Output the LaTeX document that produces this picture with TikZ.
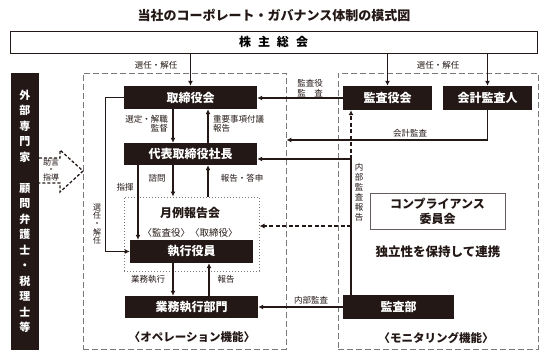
\documentclass[tikz,border=0pt]{standalone}
\usepackage{fontspec}
\setmainfont{Noto Sans CJK JP}
\usetikzlibrary{arrows.meta,positioning}
\definecolor{BoxBlack}{RGB}{35,24,21}
\definecolor{FrameGray}{RGB}{120,120,120}

\tikzset{
  darkbox/.style={fill=BoxBlack, text=white, inner sep=0pt,
    font=\bfseries\fontsize{12}{12}\selectfont},
  lbl/.style={font=\fontsize{8.5}{9.5}\selectfont, align=center, inner sep=0pt, text=BoxBlack},
  bigtext/.style={font=\bfseries\fontsize{12}{15}\selectfont, align=center, inner sep=0pt, text=BoxBlack},
  arr/.style={draw=BoxBlack, line width=1.3pt, -{Latex[length=5pt,width=5pt]}},
  link/.style={draw=BoxBlack, line width=1.3pt},
  dasharr/.style={arr, dash pattern=on 4pt off 2.5pt},
  frame/.style={draw=FrameGray, line width=0.9pt, dash pattern=on 6pt off 3pt, inner sep=0pt},
}

\begin{document}
\begin{tikzpicture}[x=1pt, y=-1pt]
    \useasboundingbox (0,0) rectangle (548,357);

    % Title and shareholders
    \node[font=\bfseries\fontsize{13}{13}\selectfont, text=BoxBlack] (title) at (274,15) {当社のコーポレート・ガバナンス体制の模式図};
    \node[draw=BoxBlack, line width=1pt, fill=white, minimum width=527pt, minimum height=22pt, inner sep=0pt,
      font=\bfseries\fontsize{12}{12}\selectfont] (holders) at (273.5,42)
      {株\hspace{7pt}主\hspace{7pt}総\hspace{7pt}会};

    % Frames
    \node[frame, minimum width=203pt, minimum height=276pt] (opframe) at (184.5,211) {};
    \node[frame, minimum width=200pt, minimum height=276pt] (monframe) at (438,211) {};
    \node[draw=FrameGray, dotted, line width=1pt, minimum width=135pt, minimum height=74pt, inner sep=0pt] (monthly) at (191.5,234) {};

    % Boxes
    \node[darkbox, minimum width=28pt, minimum height=277pt, align=center,
      font=\bfseries\fontsize{11}{15.5}\selectfont] (ext) at (25,211.5)
      {外\\部\\専\\門\\家\\\mbox{}\\顧\\問\\弁\\護\\士\\・\\税\\理\\士\\等};
    \node[darkbox, minimum width=133pt, minimum height=23pt] (board) at (190.5,97.5) {取締役会};
    \node[darkbox, minimum width=133pt, minimum height=22pt] (ceo) at (190.5,154) {代表取締役社長};
    \node[darkbox, minimum width=123pt, minimum height=23pt] (exec) at (191.5,251.5) {執行役員};
    \node[darkbox, minimum width=133pt, minimum height=22pt] (dept) at (191.5,307) {業務執行部門};
    \node[darkbox, minimum width=89pt, minimum height=24pt] (auditboard) at (387.5,98) {監査役会};
    \node[darkbox, minimum width=89pt, minimum height=24pt] (accountant) at (487.5,98) {会計監査人};
    \node[darkbox, minimum width=111pt, minimum height=24pt] (auditdept) at (398.5,307) {監査部};
    \node[draw=BoxBlack!70, line width=0.6pt, fill=white, minimum width=135pt, minimum height=36pt,
      bigtext] (compliance) at (437.5,211) {コンプライアンス\\委員会};

    % Texts
    \node[bigtext] (montitle) at (190,213) {月例報告会};
    \node[lbl, font=\fontsize{9.5}{9.5}\selectfont] (monsub) at (190,233) {〈監査役〉〈取締役〉};
    \node[bigtext, font=\bfseries\fontsize{11.5}{11.5}\selectfont] (optext) at (192,337) {〈オペレーション機能〉};
    \node[bigtext, font=\bfseries\fontsize{11.5}{11.5}\selectfont] (montext) at (436,338) {〈モニタリング機能〉};
    \node[bigtext, font=\bfseries\fontsize{12.5}{12.5}\selectfont] (indep) at (438,252) {独立性を保持して連携};

    % Shareholders' meeting
    \draw[arr] (board.north |- holders.south) -- (board.north);
    \draw[arr] (auditboard.north |- holders.south) -- (auditboard.north);
    \draw[arr] (accountant.north |- holders.south) -- (accountant.north);
    \node[lbl] (elect1) at (156,65) {選任・解任};
    \node[lbl] (elect2) at (438,65) {選任・解任};

    % Operation side
    \draw[arr] ([xshift=-17.5pt]board.south) -- ([xshift=-17.5pt]ceo.north);
    \draw[arr] ([xshift=17.5pt]ceo.north) -- ([xshift=17.5pt]board.south);
    \node[lbl, anchor=east, align=right] (supervise) at (168,124) {選定・解職\\監督};
    \node[lbl, anchor=west, align=left] (agenda) at (213,124) {重要事項付議\\報告};

    \draw[arr] (board.west) -- ++(-18,0) |- (exec.west);
    \node[lbl, font=\fontsize{8}{8.3}\selectfont] (elect3) at (97,224) {選\\任\\・\\解\\任};

    \draw[arr] ([xshift=-52.5pt]ceo.south) -- ([xshift=-52.5pt]ceo.south |- exec.north);
    \draw[arr] ([xshift=-17.5pt]ceo.south) -- ([xshift=-17.5pt]ceo.south |- monthly.north);
    \draw[arr] ([xshift=17.5pt]ceo.south |- monthly.north) -- ([xshift=17.5pt]ceo.south);
    \node[lbl] (command) at (125,187) {指揮};
    \node[lbl] (consult) at (157,178) {諮問};
    \node[lbl] (answer) at (242,178) {報告・答申};

    \draw[arr] ([xshift=-18.5pt]exec.south) -- ([xshift=-18.5pt]exec.south |- dept.north);
    \draw[arr] ([xshift=17.5pt]exec.south |- dept.north) -- ([xshift=17.5pt]exec.south);
    \node[lbl] (execute) at (148,279) {業務執行};
    \node[lbl] (report) at (226,279) {報告};

    % Monitoring side
    \draw[arr] (auditboard.west) -- (auditboard.west -| board.east);
    \node[lbl] (auditlbl) at (310,88) {監査役\\監　査};

    \coordinate (acctbend) at (487.5,140);
    \draw[arr] (accountant.south) -- (acctbend) -- (acctbend -| opframe.east);
    \node[lbl] (acctlbl) at (410,133) {会計監査};

    \coordinate (rptjoin) at (351,159);
    \coordinate (monrpt) at (351,226);
    \draw[link] (auditdept.north -| rptjoin) -- (rptjoin);
    \draw[arr] (rptjoin) -- (rptjoin -| ceo.east);
    \draw[dasharr] (rptjoin) -- (rptjoin |- auditboard.south);
    \draw[dasharr] (monrpt) -- (monrpt -| monthly.east);
    \node[lbl, font=\fontsize{8.5}{10}\selectfont] (inrpt) at (359,192) {内\\部\\監\\査\\報\\告};

    \draw[arr] (auditdept.west) -- (auditdept.west -| dept.east);
    \node[lbl] (inaudit) at (311,300) {内部監査};

    % Advice arrow
    \draw[draw=BoxBlack, line width=1.3pt, dash pattern=on 3pt off 2pt]
      (39,158) -- (60,158) -- (60,150) -- (83,171) -- (60,192) -- (60,183) -- (39,183);
    \node[lbl, font=\fontsize{8}{6.5}\selectfont] (advice) at (51,170) {助言\\・\\指導};
\end{tikzpicture}
\end{document}
